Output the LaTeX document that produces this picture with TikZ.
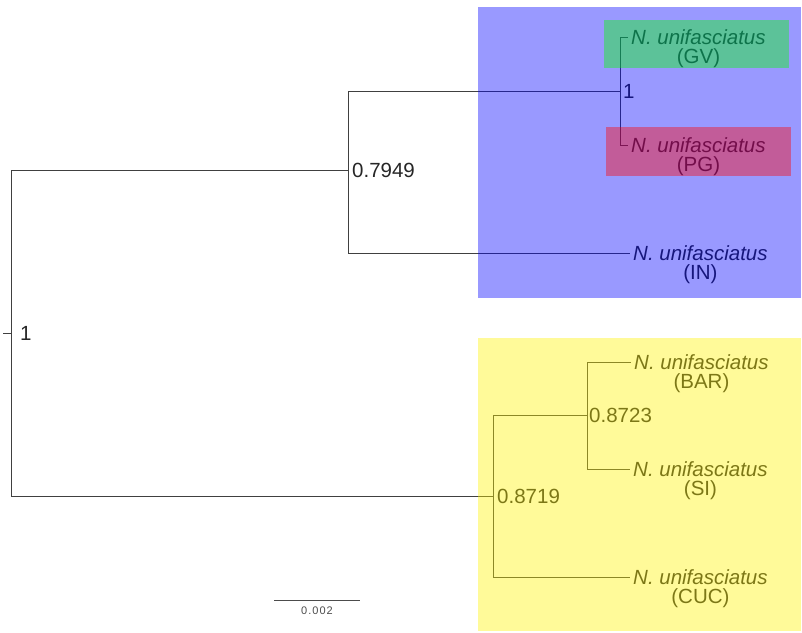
\documentclass[tikz,border=0pt]{standalone}
\usepackage{fontspec}
\setmainfont{Liberation Sans}
\usetikzlibrary{positioning}

\begin{document}
\begin{tikzpicture}[x=1pt, y=-1pt,
  branch/.style={draw=black!75, line width=1pt},
  taxon/.style={anchor=west, inner xsep=3pt, inner ysep=0pt, text=black!85,
    font=\fontsize{20.5}{21}\selectfont\itshape},
  site/.style={below=4pt of #1, inner sep=0pt, text=black!85,
    font=\fontsize{20.5}{21}\selectfont},
  support/.style={inner sep=0pt, text=black!85, font=\fontsize{20.5}{21}\selectfont},
  clade/.style={fill=#1, fill opacity=0.4, draw=none}]
  \useasboundingbox (0,0) rectangle (802,632);

  % Internal nodes of the tree
  \coordinate (stub) at (3,333);
  \coordinate (root) at (11,333);
  \coordinate (nIN) at (348,170);
  \coordinate (nGP) at (620,91);
  \coordinate (nCUC) at (493,496);
  \coordinate (nBS) at (587,415);

  % Tips
  \node[taxon] (gv) at (628,37) {N. unifasciatus};
  \node[site=gv] (gv-site) {(GV)};
  \node[taxon] (pg) at (628,145) {N. unifasciatus};
  \node[site=pg] (pg-site) {(PG)};
  \node[taxon] (in) at (630,253) {N. unifasciatus};
  \node[site=in] (in-site) {(IN)};
  \node[taxon] (bar) at (631,362) {N. unifasciatus};
  \node[site=bar] (bar-site) {(BAR)};
  \node[taxon] (si) at (630,469) {N. unifasciatus};
  \node[site=si] (si-site) {(SI)};
  \node[taxon] (cuc) at (630,577) {N. unifasciatus};
  \node[site=cuc] (cuc-site) {(CUC)};

  % Branches
  \draw[branch] (stub) -- (root);
  \draw[branch] (root) |- (nIN);
  \draw[branch] (root) |- (nCUC);
  \draw[branch] (nIN) |- (nGP);
  \draw[branch] (nIN) |- (in.west);
  \draw[branch] (nGP) |- (gv.west);
  \draw[branch] (nGP) |- (pg.west);
  \draw[branch] (nCUC) |- (nBS);
  \draw[branch] (nCUC) |- (cuc.west);
  \draw[branch] (nBS) |- (bar.west);
  \draw[branch] (nBS) |- (si.west);

  % Support values
  \node[support, right=9pt of root] (root-lab) {1};
  \node[support, right=4pt of nIN] (nIN-lab) {0.7949};
  \node[support, right=3pt of nGP] (nGP-lab) {1};
  \node[support, right=4pt of nCUC] (nCUC-lab) {0.8719};
  \node[support, right=2pt of nBS] (nBS-lab) {0.8723};

  % Scale bar
  \coordinate (bar-l) at (274,600);
  \coordinate (bar-r) at (360,600);
  \draw[draw=black!70, line width=1pt] (bar-l) -- (bar-r);
  \node[inner sep=0pt, text=black!70, font=\fontsize{11}{12}\selectfont, below=7pt]
    (bar-lab) at (317,600) {0\kern1pt.\kern1pt0\kern1pt0\kern1pt2};

  % Clade highlights
  \fill[clade=blue] (478,7) rectangle (801,298);
  \fill[clade=green] (604,20) rectangle (789,68);
  \fill[clade=red] (606,127) rectangle (791,176);
  \fill[clade=yellow] (478,338) rectangle (801,631);
\end{tikzpicture}
\end{document}
